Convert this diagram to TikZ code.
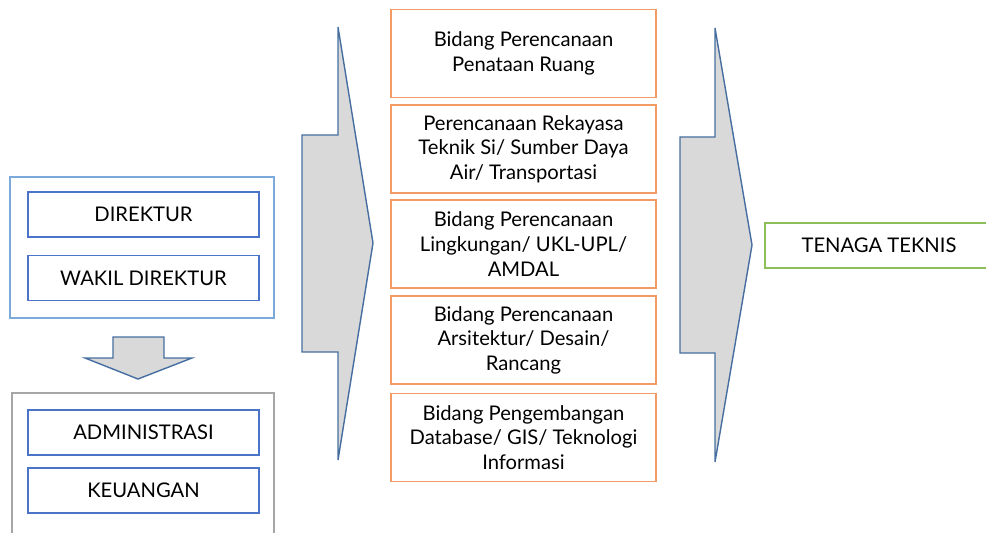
\documentclass[tikz,border=0pt]{standalone}
\usepackage{fontspec}
\setmainfont{Lato}
\usetikzlibrary{fit}

\definecolor{outerblue}{RGB}{125,170,220}
\definecolor{innerblue}{RGB}{75,115,200}
\definecolor{boxorange}{RGB}{242,155,100}
\definecolor{arrowblue}{RGB}{70,110,160}
\definecolor{arrowgray}{RGB}{217,217,217}
\definecolor{boxgreen}{RGB}{140,190,90}

\begin{document}
\begin{tikzpicture}[
    x=0.02cm, y=-0.02cm,
    font=\fontsize{11.5}{14}\selectfont,
    inbox/.style={draw=innerblue, line width=0.6pt, minimum width=4.62cm, minimum height=0.9cm, inner sep=0pt},
    bidang/.style={draw=boxorange, line width=1pt, minimum width=5.3cm, minimum height=1.76cm, align=center, inner sep=0pt},
    blockarrow/.style={draw=arrowblue, fill=arrowgray, line width=0.8pt, line join=miter},
  ]
  \clip (0,0) rectangle (986,533);
  % pimpinan
  \node[inbox] (direktur) at (143.5,214.5) {DIREKTUR};
  \node[inbox] (wakil) at (143.5,278) {WAKIL DIREKTUR};
  \draw[outerblue, line width=0.6pt] (10,177) rectangle (274,318);
  % panah bawah
  \draw[blockarrow] (113,337) -- (164,337) -- (164,358) -- (192,358) -- (138,379)
    -- (85,358) -- (113,358) -- cycle;
  % staf
  \draw[gray!70, line width=0.6pt] (12,560) -- (12,393) -- (274,393) -- (274,560);
  \node[inbox] (admin) at (143.5,432.5) {ADMINISTRASI};
  \node[inbox] (keuangan) at (143.5,490.5) {KEUANGAN};
  % panah tengah
  \draw[blockarrow] (338,27) -- (373,243) -- (338,460) -- (338,352) -- (302,352)
    -- (302,135) -- (338,135) -- cycle;
  % bidang
  \node[bidang] (ruang) at (523.5,53.5) {Bidang Perencanaan\\Penataan Ruang};
  \node[bidang] (rekayasa) at (523.5,149) {Perencanaan Rekayasa\\Teknik Si/ Sumber Daya\\Air/ Transportasi};
  \node[bidang] (lingkungan) at (523.5,244) {Bidang Perencanaan\\Lingkungan/ UKL-UPL/\\AMDAL};
  \node[bidang] (arsitektur) at (523.5,340) {Bidang Perencanaan\\Arsitektur/ Desain/\\Rancang};
  \node[bidang] (database) at (523.5,437.5) {Bidang Pengembangan\\Database/ GIS/ Teknologi\\Informasi};
  % panah kanan
  \draw[blockarrow] (715,28) -- (752,245) -- (715,462) -- (715,353) -- (680,353)
    -- (680,137) -- (715,137) -- cycle;
  % tenaga teknis
  \node[draw=boxgreen, line width=0.8pt, minimum width=4.56cm, minimum height=0.9cm, inner sep=0pt] (teknis) at (879,245.5) {TENAGA TEKNIS};
\end{tikzpicture}
\end{document}
